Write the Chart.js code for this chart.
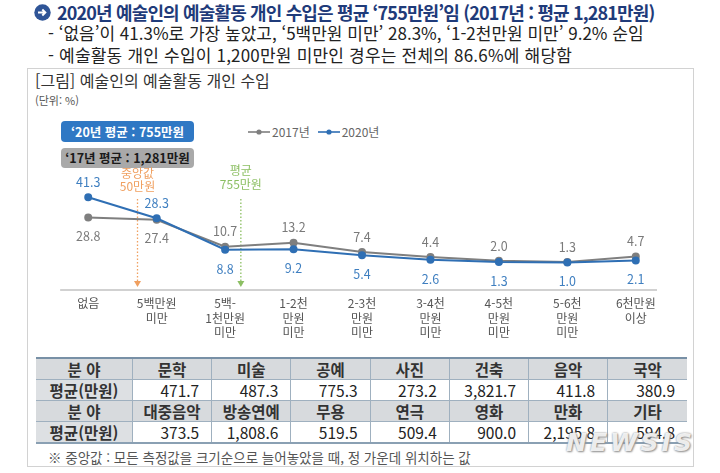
<!DOCTYPE html>
<html lang="ko">
<head>
<meta charset="utf-8">
<script src="https://cdn.jsdelivr.net/npm/chart.js@4.4.1/dist/chart.umd.min.js"></script>
<style>
  html, body { margin: 0; padding: 0; background: #fff; }
  body { width: 720px; height: 473px; position: relative; overflow: hidden; font-family: 'Noto Sans CJK KR', sans-serif; }
  .abs { position: absolute; white-space: nowrap; }
  #bullet { left: 34px; top: 4px; }
  #head1 { left: 57px; top: 1px; font-size: 18px; line-height: 22px; font-weight: 700; color: #1f3b7a; letter-spacing: -0.85px; }
  #head2 { left: 48px; top: 22px; font-size: 17px; line-height: 22px; color: #222; letter-spacing: 0; }
  #head3 { left: 48px; top: 44px; font-size: 17px; line-height: 22px; color: #222; letter-spacing: 0.2px; }
  #frame { left: 27px; top: 68px; width: 665px; height: 397px; border: 1px solid #d2d2d2; }
  #figtitle { left: 35px; top: 70px; font-size: 16px; line-height: 20px; color: #333; }
  #unit { left: 35px; top: 93px; font-size: 11px; line-height: 14px; color: #555; }
  .avg { left: 61px; width: 133px; text-align: center; font-size: 12.5px; font-weight: 700; border-radius: 4px; }
  #avg20 { top: 121px; height: 21px; line-height: 21px; background: #2f78c4; color: #fff; }
  #avg17 { top: 148px; height: 20px; line-height: 20px; background: #a9a9a9; color: #1a1a1a; }
  #legend { left: 248px; top: 124px; font-size: 12px; line-height: 16px; color: #666; display: flex; align-items: center; }
  #legend svg { margin-right: 2px; }
  #legend span { margin-right: 8px; }
  #chartbox { left: 0; top: 100px; width: 720px; height: 250px; }
  table { position: absolute; left: 36px; top: 357px; width: 651px; border-collapse: collapse; table-layout: fixed;
          border-top: 2px solid #7890a6; border-bottom: 2px solid #8aa0b3; font-size: 15.5px; }
  td { height: 20px; padding: 0; border: 1px solid #9fb0bf; line-height: 20px; }
  td:first-child { border-left: none; width: 96px; }
  td:last-child { border-right: none; }
  tr.hd td { background: #d7dadd; text-align: center; font-weight: 700; color: #333; }
  tr.val td { text-align: right; padding-right: 12px; color: #222; }
  tr.val td:first-child { background: #dde0e3; text-align: center; font-weight: 700; color: #333; padding-right: 0; }
  #note { left: 48px; top: 449px; font-size: 13.5px; line-height: 16px; color: #555; }
  #mark { left: 566px; top: 428px; font-size: 25px; font-weight: 900; font-style: italic; letter-spacing: 3px;
          color: rgba(255,255,255,0.85); text-shadow: 0 0 2px #888, 1px 1px 2px #999; font-family: 'DejaVu Sans', sans-serif; }
</style>
</head>
<body>
<svg id="bullet" class="abs" width="17" height="17" viewBox="0 0 17 17">
  <circle cx="8.5" cy="8.5" r="8.2" fill="#2f5597"/>
  <path d="M4 8.5 H11 M8.3 5.5 L11.3 8.5 L8.3 11.5" stroke="#fff" stroke-width="2" fill="none"/>
</svg>
<div id="head1" class="abs">2020년 예술인의 예술활동 개인 수입은 평균 ‘755만원’임 (2017년 : 평균 1,281만원)</div>
<div id="head2" class="abs">- ‘없음’이 41.3%로 가장 높았고, ‘5백만원 미만’ 28.3%, ‘1-2천만원 미만’ 9.2% 순임</div>
<div id="head3" class="abs">- 예술활동 개인 수입이 1,200만원 미만인 경우는 전체의 86.6%에 해당함</div>
<div id="frame" class="abs"></div>
<div id="figtitle" class="abs">[그림] 예술인의 예술활동 개인 수입</div>
<div id="unit" class="abs">(단위: %)</div>
<div id="avg20" class="abs avg">‘20년 평균 : 755만원</div>
<div id="avg17" class="abs avg">‘17년 평균 : 1,281만원</div>
<div id="legend" class="abs"></div>
<div id="chartbox" class="abs"><canvas id="chart" width="720" height="250"></canvas></div>
<table id="table"></table>
<div id="note" class="abs">※ 중앙값 : 모든 측정값을 크기순으로 늘어놓았을 때, 정 가운데 위치하는 값</div>
<div id="mark" class="abs">NEWSIS</div>

<script>
// income brackets (x axis), multi-line labels
const categories = [
  ['없음'],
  ['5백만원', '미만'],
  ['5백-', '1천만원', '미만'],
  ['1-2천', '만원', '미만'],
  ['2-3천', '만원', '미만'],
  ['3-4천', '만원', '미만'],
  ['4-5천', '만원', '미만'],
  ['5-6천', '만원', '미만'],
  ['6천만원', '이상']
];
const series2017 = [28.8, 27.4, 10.7, 13.2, 7.4, 4.4, 2.0, 1.3, 4.7];
const series2020 = [41.3, 28.3, 8.8, 9.2, 5.4, 2.6, 1.3, 1.0, 2.1];

// median / mean markers, placed on the category axis
const medianAt = 0.72;
const meanAt = 2.23;

// table: field -> average income (만원)
const fields1 = ['문학', '미술', '공예', '사진', '건축', '음악', '국악'];
const avg1 = ['471.7', '487.3', '775.3', '273.2', '3,821.7', '411.8', '380.9'];
const fields2 = ['대중음악', '방송연예', '무용', '연극', '영화', '만화', '기타'];
const avg2 = ['373.5', '1,808.6', '519.5', '509.4', '900.0', '2,195.8', '594.8'];

const grey = '#7f7f7f';
const blue = '#2f6fb4';

// legend
const legend = document.getElementById('legend');
[['2017년', grey], ['2020년', blue]].forEach(([name, c]) => {
  legend.insertAdjacentHTML('beforeend',
    `<svg width="22" height="8"><line x1="0" y1="4" x2="22" y2="4" stroke="${c}" stroke-width="1.6"/>` +
    `<circle cx="11" cy="4" r="2.6" fill="${c}"/></svg><span>${name}</span>`);
});

// table
const table = document.getElementById('table');
function addRows(fields, vals) {
  table.insertAdjacentHTML('beforeend',
    '<tr class="hd"><td>분 야</td>' + fields.map(f => `<td>${f}</td>`).join('') + '</tr>' +
    '<tr class="val"><td>평균(만원)</td>' + vals.map(v => `<td>${v}</td>`).join('') + '</tr>');
}
addRows(fields1, avg1);
addRows(fields2, avg2);

Chart.defaults.font.family = "'Noto Sans CJK KR', sans-serif";

const overlay = {
  id: 'overlay',
  beforeDatasetsDraw(chart) {
    const ctx = chart.ctx, x = chart.scales.x;
    const y0 = chart.chartArea.bottom;
    ctx.save();
    // base line
    ctx.strokeStyle = '#c2c2c2';
    ctx.lineWidth = 1.5;
    ctx.beginPath();
    ctx.moveTo(x.getPixelForValue(-0.41), y0);
    ctx.lineTo(x.getPixelForValue(8.31), y0);
    ctx.stroke();

    const marks = [
      { at: medianAt, color: '#f0a060', text: ['중앙값', '50만원'], ty: [y0 - 116, y0 - 103] },
      { at: meanAt, color: '#8cbf63', text: ['평균', '755만원'], ty: [y0 - 119, y0 - 105] }
    ];
    marks.forEach(m => {
      const px = x.getPixelForValue(m.at);
      ctx.strokeStyle = m.color;
      ctx.lineWidth = 1.3;
      ctx.setLineDash([1.5, 2]);
      ctx.beginPath();
      ctx.moveTo(px, y0 - 91);
      ctx.lineTo(px, y0 - 8);
      ctx.stroke();
      ctx.setLineDash([]);
      ctx.fillStyle = m.color;
      ctx.beginPath();
      ctx.moveTo(px - 3.5, y0 - 9);
      ctx.lineTo(px + 3.5, y0 - 9);
      ctx.lineTo(px, y0 - 3);
      ctx.closePath();
      ctx.fill();
      ctx.font = "12px 'Noto Sans CJK KR'";
      ctx.textAlign = 'center';
      ctx.textBaseline = 'middle';
      m.text.forEach((t, i) => ctx.fillText(t, px, m.ty[i]));
    });
    ctx.restore();
  },
  afterDatasetsDraw(chart) {
    const ctx = chart.ctx;
    ctx.save();
    ctx.font = "12.5px 'Noto Sans CJK KR'";
    ctx.textAlign = 'center';
    ctx.textBaseline = 'middle';
    chart.data.datasets.forEach((ds, di) => {
      const is2020 = ds.label === '2020년';
      chart.getDatasetMeta(di).data.forEach((pt, i) => {
        const above = is2020 ? i < 2 : i >= 2;
        ctx.fillStyle = is2020 ? '#3f7fc0' : '#7a7a7a';
        ctx.fillText(ds.data[i].toFixed(1), pt.x, pt.y + (above ? -15 : 19));
      });
    });
    ctx.restore();
  }
};

new Chart(document.getElementById('chart'), {
  type: 'line',
  data: {
    labels: categories,
    datasets: [
      { label: '2020년', data: series2020, borderColor: blue, backgroundColor: blue,
        borderWidth: 2, pointRadius: 3, pointHoverRadius: 3, order: 0 },
      { label: '2017년', data: series2017, borderColor: grey, backgroundColor: grey,
        borderWidth: 2, pointRadius: 3, pointHoverRadius: 3, order: 1 }
    ]
  },
  options: {
    responsive: false,
    animation: false,
    layout: { padding: { left: 54, right: 50, top: 67, bottom: 4 } },
    plugins: { legend: { display: false }, tooltip: { enabled: false } },
    scales: {
      x: {
        offset: true,
        grid: { display: false, drawTicks: false },
        border: { display: false },
        ticks: { color: '#555', padding: 7, maxRotation: 0, autoSkip: false,
                 font: { size: 12, lineHeight: 1.17 } }
      },
      y: { display: false, min: -16, max: 60 }
    }
  },
  plugins: [overlay]
});
</script>
</body>
</html>
